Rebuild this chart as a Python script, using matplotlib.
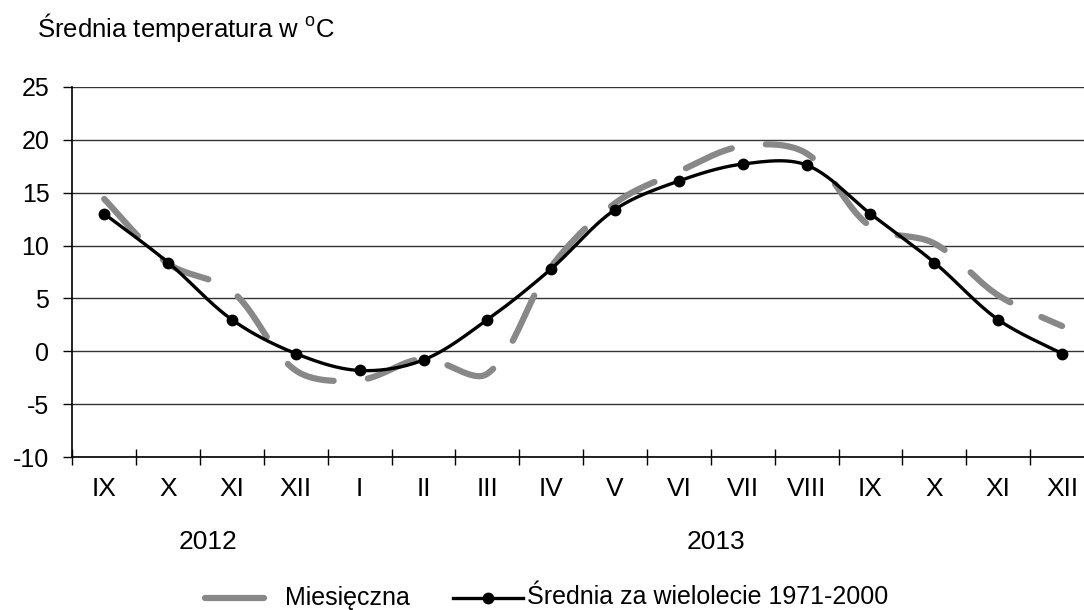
import numpy as np
import matplotlib
matplotlib.use("Agg")
import matplotlib.pyplot as plt
from matplotlib.lines import Line2D

plt.rcParams['font.family'] = ['Liberation Sans', 'DejaVu Sans']
plt.rcParams['mathtext.fontset'] = 'custom'
plt.rcParams['mathtext.rm'] = 'Liberation Sans'
plt.rcParams['axes.unicode_minus'] = False

months = ["IX", "X", "XI", "XII", "I", "II", "III", "IV", "V", "VI",
          "VII", "VIII", "IX", "X", "XI", "XII"]
monthly = [14.4, 8.3, 5.7, -1.8, -2.7, -0.7, -2.1, 8.0, 14.0, 17.0,
           19.4, 18.7, 11.8, 10.2, 5.3, 2.4]
normal = [13.0, 8.4, 3.0, -0.2, -1.8, -0.8, 3.0, 7.8, 13.4, 16.1,
          17.7, 17.6, 13.0, 8.4, 3.0, -0.2]
years = ["2012", "2013"]
y_ticks = [-10, -5, 0, 5, 10, 15, 20, 25]

FIG_W, FIG_H = 1084, 610
AX_BOX = [0.0667, 0.2503, 0.9425, 0.6075]
FS = 18


def smooth(x, y, sx, sy, n=40):
    """Smoothed line through the points: Bezier segments with
    chord-length weighted Catmull-Rom tangents (computed in pixel space)."""
    P = np.column_stack([np.asarray(x, float) * sx, np.asarray(y, float) * sy])
    m = len(P)
    d = np.hypot(*(P[1:] - P[:-1]).T)
    out = []
    for i in range(m - 1):
        p1, p2 = P[i], P[i + 1]
        if i > 0:
            c1 = p1 + (p2 - P[i - 1]) * d[i] / (d[i - 1] + d[i]) / 3.0
        else:
            c1 = p1 + (p2 - p1) / 3.0 * 0.5
        if i + 2 < m:
            c2 = p2 - (P[i + 2] - p1) * d[i] / (d[i] + d[i + 1]) / 3.0
        else:
            c2 = p2 - (p2 - p1) / 3.0 * 0.5
        t = np.linspace(0, 1, n, endpoint=(i == m - 2))[:, None]
        seg = ((1 - t) ** 3) * p1 + 3 * ((1 - t) ** 2) * t * c1 \
            + 3 * (1 - t) * t ** 2 * c2 + t ** 3 * p2
        out.append(seg)
    out = np.vstack(out)
    return out[:, 0] / sx, out[:, 1] / sy


fig = plt.figure(figsize=(FIG_W / 100, FIG_H / 100), dpi=100)
ax = fig.add_axes(AX_BOX)

n = len(months)
xc = np.arange(n) + 0.5
ymin, ymax = -10, 25
px_x = AX_BOX[2] * FIG_W / n
px_y = AX_BOX[3] * FIG_H / (ymax - ymin)

gx, gy = smooth(xc, monthly, px_x, px_y)
ax.plot(gx, gy, color='#888888', lw=4.5, dashes=(8, 5.5),
        dash_capstyle='round', solid_capstyle='round', zorder=3)
bx, by = smooth(xc, normal, px_x, px_y)
ax.plot(bx, by, color='black', lw=2.4, zorder=4)
ax.plot(xc, normal, 'o', color='black', ms=7.5, zorder=5)

ax.set_xlim(0, n)
ax.set_ylim(ymin, ymax)
ax.set_yticks(y_ticks)
ax.yaxis.grid(True, color='#333333', lw=1.0)
ax.set_axisbelow(True)

for s in ['top', 'right']:
    ax.spines[s].set_visible(False)
for s in ['left', 'bottom']:
    ax.spines[s].set_linewidth(1.2)
    ax.spines[s].set_color('black')

ax.set_xticks(np.arange(0, n + 1))
ax.set_xticklabels([])
ax.set_xticks(xc, minor=True)
ax.set_xticklabels(months, minor=True, fontsize=FS + 1)
ax.tick_params(axis='x', which='major', direction='inout', length=12, width=1.0)
ax.tick_params(axis='x', which='minor', length=0, pad=14)
ax.tick_params(axis='y', direction='out', length=6.5, width=1.0, labelsize=FS, pad=10)

fig.text(37 / FIG_W, 1 - 37 / FIG_H, r'Średnia temperatura w $^{\mathrm{o}}$C',
         fontsize=FS + 0.5, ha='left', va='baseline')

fig.text(208 / FIG_W, 1 - 542 / FIG_H, years[0], fontsize=FS + 1, ha='center', va='center')
fig.text(716 / FIG_W, 1 - 542 / FIG_H, years[1], fontsize=FS + 1, ha='center', va='center')

# legend
ly = 1 - 597.5 / FIG_H
fig.add_artist(Line2D([205 / FIG_W, 264 / FIG_W], [ly, ly], color='#888888', lw=4.5,
                      solid_capstyle='round', transform=fig.transFigure))
fig.text(285 / FIG_W, ly, 'Miesięczna', fontsize=FS, ha='left', va='center')
fig.add_artist(Line2D([453 / FIG_W, 523 / FIG_W], [ly, ly], color='black', lw=2.4,
                      transform=fig.transFigure))
fig.add_artist(Line2D([488 / FIG_W], [ly], color='black', marker='o', ms=7.5,
                      transform=fig.transFigure))
fig.text(527 / FIG_W, ly, 'Średnia za wielolecie 1971-2000', fontsize=FS,
         ha='left', va='center')

fig.savefig('out.png', dpi=100)
